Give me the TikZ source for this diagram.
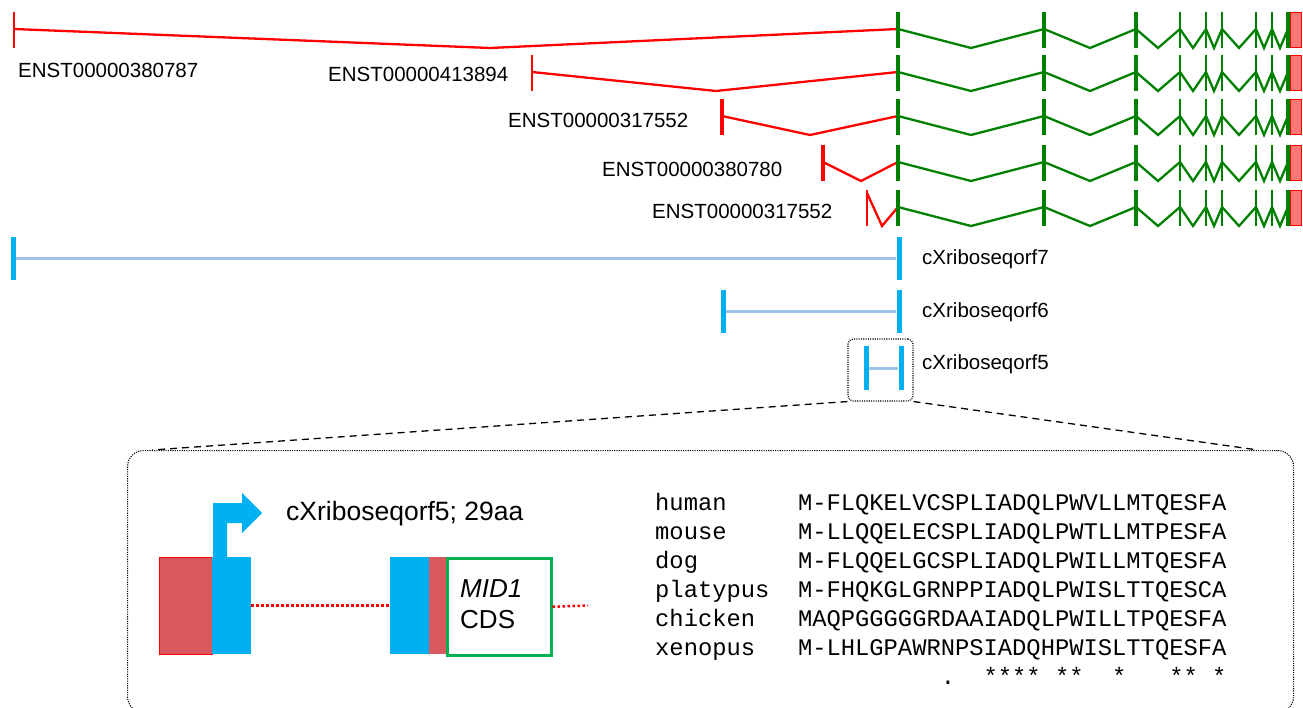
\documentclass[tikz,border=0pt]{standalone}
\usepackage{fontspec}
\setmainfont{Liberation Sans}
\newfontfamily\alnfont{Liberation Mono}
\definecolor{ered}{RGB}{255,0,0}
\definecolor{egreen}{RGB}{0,128,0}
\definecolor{ecyan}{RGB}{0,176,240}
\definecolor{elblue}{RGB}{157,195,230}
\definecolor{esalmon}{RGB}{255,120,120}
\definecolor{einsetred}{RGB}{217,87,94}
\definecolor{ecdsgreen}{RGB}{0,176,80}
\begin{document}
\begin{tikzpicture}[x=1pt,y=-1pt,
  redln/.style={draw=ered, line width=2.3},
  greenln/.style={draw=egreen, line width=2.3},
  tlabel/.style={font=\fontsize{20.5}{24}\selectfont, inner sep=0, anchor=base west},
  ilabel/.style={font=\fontsize{26.5}{30}\selectfont, inner sep=0, anchor=base west},
  cdslabel/.style={font=\fontsize{26}{30}\selectfont, inner sep=0, anchor=base west},
  mono/.style={font=\alnfont\fontsize{23.8}{28}\selectfont, inner sep=0, anchor=base west},
  orftick/.style={rectangle, fill=ecyan, draw=none, inner sep=0, minimum width=5, minimum height=43},
  orfline/.style={draw=elblue, line width=3},
  exonbox/.style={rectangle, inner sep=0, minimum height=97, anchor=north west},
  reddot/.style={draw=ered, line width=2.5, dash pattern=on 2.5pt off 2.5pt},
  dotbox/.style={draw=black, line width=1.1, dash pattern=on 1.1pt off 1.2pt},
  zoomline/.style={draw=black, line width=1.3, dash pattern=on 7pt off 5pt}]
\useasboundingbox (0,0) rectangle (1303,708);

% ---------------- Ensembl transcripts ----------------
\foreach \i/\t/\xs/\xm/\w/\rs/\lx/\lb/\lab in {
  1/12/14/490/2.5/17/18/78/ENST00000380787,
  2/55/532/716/2.5/17/328/82/ENST00000413894,
  3/99/722/810/3.5/17/508/128/ENST00000317552,
  4/145/823/861/3.5/17/602/177/ENST00000380780,
  5/190/867/882/1.5/3/652/219/ENST00000317552}{
  \pgfmathsetmacro\yc{\t+17}
  \pgfmathsetmacro\yb{\t+36}
  \pgfmathsetmacro\ys{\t+\rs}
  % red 5' part
  \draw[redln] (\xs,\ys) -- (\xm,\yb) -- (898,\yc);
  \draw[draw=ered, line width=\w] (\xs,\t) -- (\xs,\yb);
  % green coding part
  \draw[greenln] (898,\yc) -- (971,\yb) -- (1044,\yc) -- (1090,\yb) -- (1136,\yc)
    -- (1158,\yb) -- (1180,\yc) -- (1193,\yb) -- (1206,\yc) -- (1214,\yb) -- (1222,\yc)
    -- (1239,\yb) -- (1256,\yc) -- (1264,\yb) -- (1272,\yc) -- (1280,\yb) -- (1288,\yc);
  \foreach \gx/\gw in {898/4,1044/4,1136/4,1180/2,1206/2,1222/2,1256/2,1272/2,1288/4}
    \draw[draw=egreen, line width=\gw] (\gx,\t) -- (\gx,\yb);
  \filldraw[fill=esalmon, draw=ered, line width=1.3] (1290.5,\t+0.8) rectangle (1301.5,\yb-0.8);
  \node[tlabel] (enst\i) at (\lx,\lb) {\lab};
}

% ---------------- cXriboseq ORFs ----------------
\node[orftick] (o7a) at (13,258.5) {};
\node[orftick] (o7b) at (899,258.5) {};
\draw[orfline] (o7a) -- (o7b);
\node[tlabel] (o7lab) at (922,265) {cXriboseqorf7};

\node[orftick] (o6a) at (723,312) {};
\node[orftick] (o6b) at (899,312) {};
\draw[orfline] (o6a) -- (o6b);
\node[tlabel] (o6lab) at (922,318) {cXriboseqorf6};

\node[orftick] (o5a) at (866,368) {};
\node[orftick] (o5b) at (901,368) {};
\draw[orfline] (o5a) -- (o5b);
\node[tlabel] (o5lab) at (922,370) {cXriboseqorf5};

% zoom box and inset
\node[dotbox, rounded corners=5, minimum width=65, minimum height=62, inner sep=0] (zoombox) at (880.5,370) {};
\node[dotbox, rounded corners=16, minimum width=1166, minimum height=262, inner sep=0, anchor=north west] (inset) at (127,450) {};
\coordinate (insetL) at (152,450);
\coordinate (insetR) at (1258,450);
\draw[zoomline] (zoombox.south west) -- (insetL);
\draw[zoomline] (zoombox.south east) -- (insetR);

% ---------------- inset: gene structure ----------------
\node[exonbox, fill=einsetred, draw=ered, line width=0.8, minimum width=53] (ex1r) at (159,557) {};
\node[exonbox, fill=ecyan, minimum width=39] (ex1c) at (212,557) {};
\fill[ecyan] (213,558) -- (213,503) -- (242,503) -- (242,493) -- (262,513)
  -- (242,533) -- (242,523) -- (227,523) -- (227,558) -- cycle;
\node[ilabel] (orf5lab) at (286,520) {cXriboseqorf5; 29aa};

\node[exonbox, fill=ecyan, minimum width=39] (ex2c) at (390,557) {};
\node[exonbox, fill=einsetred, minimum width=17] (ex2r) at (429,557) {};
\node[exonbox, fill=white, draw=ecdsgreen, line width=2.5, minimum width=104] (cds) at (446,557) {};
\node[cdslabel] (cds1) at (460,597) {\textit{MID1}};
\node[cdslabel] (cds2) at (460,628) {CDS};
\coordinate (tail) at (588,605.5);
\draw[reddot] (ex1c.east) -- (ex2c.west);
\draw[reddot] (cds.east) -- (tail);

% ---------------- inset: alignment ----------------
\foreach \i/\sp/\sq/\yy in {
  1/human/M-FLQKELVCSPLIADQLPWVLLMTQESFA/510,
  2/mouse/M-LLQQELECSPLIADQLPWTLLMTPESFA/539,
  3/dog/M-FLQQELGCSPLIADQLPWILLMTQESFA/568,
  4/platypus/M-FHQKGLGRNPPIADQLPWISLTTQESCA/597,
  5/chicken/MAQPGGGGGRDAAIADQLPWILLTPQESFA/626,
  6/xenopus/M-LHLGPAWRNPSIADQHPWISLTTQESFA/655}{
  \node[mono] (sp\i) at (655,\yy) {\sp};
  \node[mono] (sq\i) at (797.8,\yy) {\sq};
}
\node[mono] (cdot) at (940.6,684) {.};
\node[mono] (c1) at (983.4,684) {****};
\node[mono] (c2) at (1054.8,684) {**};
\node[mono] (c3) at (1112.0,684) {*};
\node[mono] (c4) at (1169.1,684) {**};
\node[mono] (c5) at (1211.9,684) {*};
\end{tikzpicture}
\end{document}
